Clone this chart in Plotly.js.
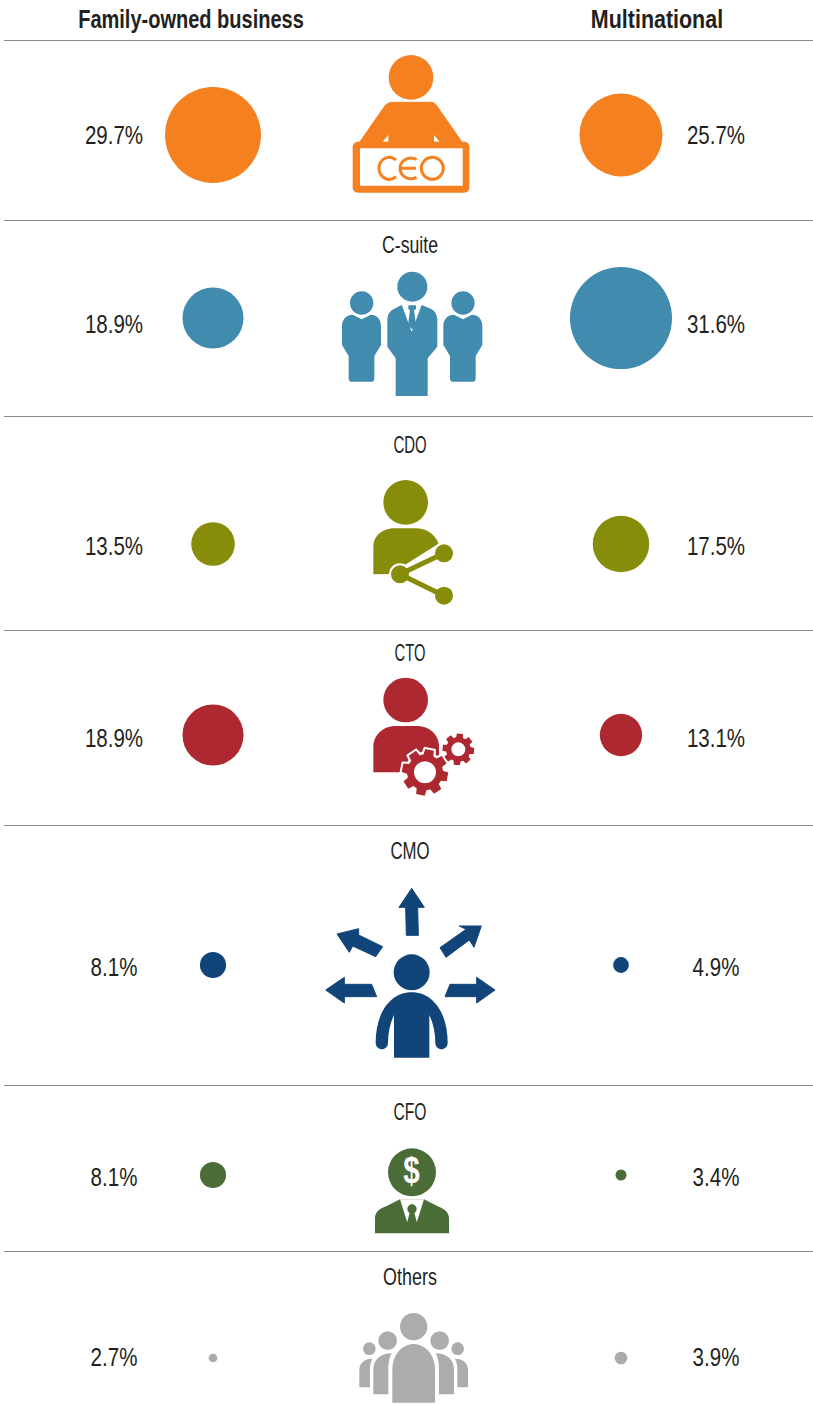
<!DOCTYPE html>
<html>
<head>
<meta charset="utf-8">
<script src="https://cdn.plot.ly/plotly-3.0.1.min.js"></script>
<style>html,body{margin:0;padding:0;background:#fff}#c{width:813px;height:1404px}</style>
</head>
<body>
<div id="c"></div>
<script>
// ---- data ----
var categories = ['CEO','C-suite','CDO','CTO','CMO','CFO','Others'];
var familyOwned = [29.7,18.9,13.5,18.9,8.1,8.1,2.7];
var multinational = [25.7,31.6,17.5,13.1,4.9,3.4,3.9];
var seriesNames = ['Family-owned business','Multinational'];

// ---- layout constants ----
var colors = ['#F58020','#418CAE','#878D0A','#AD2830','#114579','#4B6B37','#ADACAB'];
var bubbleY = [135,318,544,735,965,1175,1358];
var pctY = [138,327,549,741,970,1180,1360];
var labelY = [0,247,447,655,853,1114,1279];
var ruleY = [40,220,416,630,825,1085,1251];
var famX = 213, mulX = 621, famLabX = 114, mulLabX = 716, midX = 410;
var K = 3.23;
var FONT = '"Liberation Sans",sans-serif';
var INK = '#231F20';

var shapes = [];
function conv(ox,oy,d){ // trace coords from 3x crops -> page px
  var isX = true;
  return d.replace(/-?\d+(\.\d+)?/g,function(m){
    var v = parseFloat(m);
    var r = isX ? ox+v/3 : oy+v/3;
    isX = !isX;
    return r.toFixed(2);
  });
}
function P(ox,oy,d,fill,stroke,w){
  shapes.push({type:'path',layer:'below',xref:'x',yref:'y',path:conv(ox,oy,d),
    fillcolor:fill||'rgba(0,0,0,0)',line:{color:stroke||'rgba(0,0,0,0)',width:stroke?(w||1):0}});
}
function C(ox,oy,cx,cy,r,fill,stroke,w){
  shapes.push({type:'circle',layer:'below',xref:'x',yref:'y',
    x0:ox+(cx-r)/3,x1:ox+(cx+r)/3,y0:oy+(cy-r)/3,y1:oy+(cy+r)/3,
    fillcolor:fill||'rgba(0,0,0,0)',line:{color:stroke||'rgba(0,0,0,0)',width:stroke?(w||1):0}});
}
function gear(cx,cy,ro,ri,n,rot){
  var d='',step=2*Math.PI/n;
  for(var i=0;i<n;i++){
    var a=rot+i*step;
    var pts=[[ri,a-step*0.36],[ro,a-step*0.24],[ro,a+step*0.24],[ri,a+step*0.36]];
    pts.forEach(function(p,j){
      var x=cx+p[0]*Math.cos(p[1]),y=cy+p[0]*Math.sin(p[1]);
      d+=((i===0&&j===0)?'M':'L')+x.toFixed(1)+' '+y.toFixed(1)+' ';
    });
  }
  return d+'Z';
}

// rules
ruleY.forEach(function(y){
  shapes.push({type:'line',layer:'below',xref:'x',yref:'y',x0:4,x1:813,y0:y+0.5,y1:y+0.5,line:{color:'#8A8A8A',width:1}});
});

// CEO icon
(function(){var c=colors[0],ox=330,oy=40;
  C(ox,oy,243,112,67,c);
  P(ox,oy,'M185 187 L305 187 C312 188 316 192 320 197 L395 305 L90 305 L165 197 C170 192 176 188 185 187 Z',c,c,1);
  P(ox,oy,'M158 305 L175 285 L175 305 Z','#fff');
  P(ox,oy,'M312 285 L329 305 L312 305 Z','#fff');
  P(ox,oy,'M85 305 L402 305 C412 305 418 312 418 322 L418 442 C418 452 412 458 402 458 L85 458 C74 458 68 452 68 442 L68 322 C68 312 74 305 85 305 Z',c);
  P(ox,oy,'M90 325 L398 325 L398 437 L90 437 Z','#fff');
  P(ox,oy,'M198 360 C175 340 147 360 147 385 C147 410 175 430 198 410',null,c,3);
  P(ox,oy,'M260 358 C232 345 210 365 210 385 C210 405 232 425 260 412 M210 385 L258 385',null,c,3);
  C(ox,oy,307,385,33,null,c,3);
})();

// C-suite icon
(function(){var c=colors[1],ox=330,oy=230;
  C(ox,oy,247,170,45,c);
  P(ox,oy,'M215 225 L275 225 L305 238 C317 245 322 258 322 270 L322 350 L293 385 L293 498 L197 498 L197 385 L172 350 L172 270 C172 258 177 245 190 238 Z',c);
  P(ox,oy,'M215 224 L275 224 L245 305 Z','#fff');
  P(ox,oy,'M235 226 L258 226 L258 238 L252 240 L258 285 L246 298 L234 285 L240 240 L235 238 Z',c);
  [0,304].forEach(function(dx){
    C(ox,oy,95+dx,219,35,c);
    P(ox,oy,'M'+(36+dx)+' 290 C'+(36+dx)+' 265 '+(50+dx)+' 255 '+(68+dx)+' 254 L'+(95+dx)+' 268 L'+(122+dx)+' 254 C'+(140+dx)+' 255 '+(153+dx)+' 265 '+(153+dx)+' 290 L'+(153+dx)+' 345 L'+(133+dx)+' 378 L'+(133+dx)+' 445 C'+(133+dx)+' 452 '+(130+dx)+' 455 '+(125+dx)+' 455 L'+(64+dx)+' 455 C'+(59+dx)+' 455 '+(56+dx)+' 452 '+(56+dx)+' 445 L'+(56+dx)+' 378 L'+(36+dx)+' 345 Z',c);
  });
})();

// CDO icon
(function(){var c=colors[2],ox=350,oy=430;
  C(ox,oy,167,217,67,c);
  P(ox,oy,'M70 433 L70 350 C70 315 100 295 135 295 L200 295 C235 295 262 320 268 350 L268 433 Z',c);
  P(ox,oy,'M268 340 L290 340 L290 450 L170 450 L70 450 L70 434 L120 433 Z','#fff');
  P(ox,oy,'M282 370 L150 433',null,'#fff',9);
  C(ox,oy,282,370,33,'#fff');
  C(ox,oy,150,433,33,'#fff');
  P(ox,oy,'M282 370 L150 433 L282 497',null,c,5);
  C(ox,oy,282,370,27,c);
  C(ox,oy,150,433,27,c);
  C(ox,oy,282,497,27,c);
})();

// CTO icon
(function(){var c=colors[3],ox=350,oy=640;
  C(ox,oy,167,180,67,c);
  P(ox,oy,'M70 397 L70 320 C70 285 100 258 135 258 L200 258 C240 258 267 285 267 320 L267 397 Z',c);
  P(ox,oy,gear(225,397,70,56,8,0.2),'#fff','#fff',4);
  P(ox,oy,gear(225,397,70,54,8,0.2),c);
  C(ox,oy,225,397,33,'#fff');
  P(ox,oy,gear(325,328,48,37,8,0.1),c);
  C(ox,oy,325,328,21,'#fff');
})();

// CMO icon
(function(){var c=colors[4],ox=310,oy=840;
  C(ox,oy,305,397,54,c);
  P(ox,oy,'M252 653 L252 525 C240 550 234 580 234 608 C234 634 197 634 197 608 C197 520 240 457 305 457 C370 457 413 520 413 608 C413 634 376 634 376 608 C376 580 370 550 358 525 L358 653 Z',c);
  ['M289 286 L287 202 L267 202 L305 145 L343 202 L323 202 L325 286 Z',
   'M405 470 L420 433 L500 433 L500 412 L555 450 L500 489 L500 470 Z',
   'M200 470 L185 433 L103 433 L103 412 L47 450 L103 489 L103 470 Z',
   'M390 323 L468 268 L448 258 L514 258 L492 322 L478 300 L408 352 Z',
   'M218 320 L146 285 L146 266 L81 282 L118 337 L128 318 L197 350 Z'
  ].forEach(function(d){P(ox,oy,d,c,c,1);});
})();

// CFO icon
(function(){var c=colors[5],ox=350,oy=1100;
  P(ox,oy,'M75 400 L75 355 C75 335 90 325 110 318 L150 298 L222 298 L262 318 C280 325 297 335 297 355 L297 400 Z',c);
  P(ox,oy,'M150 298 L174 374 L186 340 L198 374 L222 298 Z','#fff');
  C(ox,oy,186,327,14,c);
  P(ox,oy,'M180 335 L192 335 L202 372 L186 392 L170 372 Z',c);
  C(ox,oy,186,217,72,c);
})();

// Others icon
(function(){var c=colors[6],ox=340,oy=1260;
  C(ox,oy,221,200,41,c);
  P(ox,oy,'M157 428 L157 330 C157 280 190 252 221 252 C252 252 285 280 285 330 L285 428 Z',c);
  C(ox,oy,143,242,28,c); C(ox,oy,299,242,28,c);
  P(ox,oy,'M100 403 L100 330 C100 300 120 280 155 280 C147 295 145 310 145 330 L145 403 Z',c);
  P(ox,oy,'M342 403 L342 330 C342 300 322 280 287 280 C295 295 297 310 297 330 L297 403 Z',c);
  C(ox,oy,88,266,19,c); C(ox,oy,353,266,19,c);
  P(ox,oy,'M58 382 L58 330 C58 310 72 296 97 296 C92 305 90 318 90 330 L90 382 Z',c);
  P(ox,oy,'M384 382 L384 330 C384 310 370 296 345 296 C350 305 352 318 352 330 L352 382 Z',c);
})();

function rep(v){return categories.map(function(){return v;});}
function pct(a){return a.map(function(v){return v.toFixed(1)+'%';});}
function size(a){return a.map(function(v){return v*K;});}

var traces = [
  {type:'scatter',mode:'markers',name:seriesNames[0],x:rep(famX),y:bubbleY,
   marker:{size:size(familyOwned),color:colors,opacity:1,line:{width:0}}},
  {type:'scatter',mode:'markers',name:seriesNames[1],x:rep(mulX),y:bubbleY,
   marker:{size:size(multinational),color:colors,opacity:1,line:{width:0}}},
  {type:'scatter',mode:'text',x:rep(famLabX),y:pctY,text:pct(familyOwned),textposition:'middle center',
   textfont:{family:FONT,size:26,color:INK}},
  {type:'scatter',mode:'text',x:rep(mulLabX),y:pctY,text:pct(multinational),textposition:'middle center',
   textfont:{family:FONT,size:26,color:INK}},
  {type:'scatter',mode:'text',x:rep(midX).slice(1),y:labelY.slice(1),text:categories.slice(1),textposition:'middle center',
   textfont:{family:FONT,size:23,color:INK}},
  {type:'scatter',mode:'text',x:[191,657],y:[21,21],text:seriesNames,textposition:'middle center',
   textfont:{family:FONT,size:26,color:INK,weight:700}},
  {type:'scatter',mode:'text',x:[411.5],y:[1174],text:['$'],textposition:'middle center',
   textfont:{family:FONT,size:37,color:'#fff',weight:700}}
];

// The reference uses a condensed face; none is installed, so narrow the real text horizontally.
var narrow = [null,null,[0.79],[0.79],[0.77,0.65,0.64,0.73,0.68,0.78],[0.77,0.825],[0.8]];
Plotly.newPlot('c',traces,{
  width:813,height:1404,margin:{l:0,r:0,t:0,b:0},
  paper_bgcolor:'#fff',plot_bgcolor:'#fff',showlegend:false,hovermode:false,
  xaxis:{range:[0,813],visible:false,fixedrange:true},
  yaxis:{range:[1404,0],visible:false,fixedrange:true},
  shapes:shapes
},{displayModeBar:false,staticPlot:true}).then(function(gd){
  var groups = gd.querySelectorAll('.scatterlayer .trace');
  groups.forEach(function(g,i){
    var fs = narrow[i];
    if(!fs) return;
    g.querySelectorAll('.textpoint text').forEach(function(t,j){
      var f = fs.length>1 ? fs[j] : fs[0];
      var x = parseFloat(t.getAttribute('x'));
      var prev = t.getAttribute('transform')||'';
      t.setAttribute('transform',prev+' translate('+x+',0) scale('+f+',1) translate('+(-x)+',0)');
    });
  });
});
</script>
</body>
</html>
